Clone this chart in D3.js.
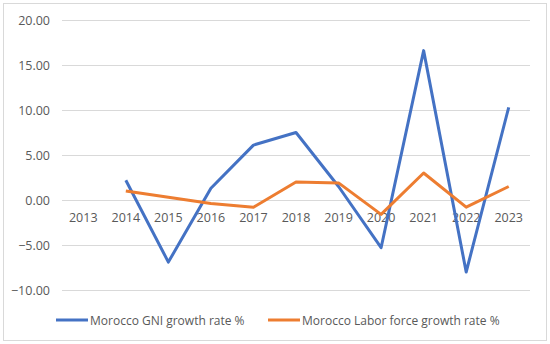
<!DOCTYPE html>
<html><head><meta charset="utf-8">
<script src="https://cdn.jsdelivr.net/npm/d3@7"></script>
<style>body{margin:0;background:#fff}svg{display:block}text{font-family:"Open Sans","Liberation Sans",sans-serif;fill:#595959}</style>
</head><body><svg id="c" width="550" height="344"></svg>
<script>
const years = ["2013","2014","2015","2016","2017","2018","2019","2020","2021","2022","2023"];
const gni = [null,2.2,-6.9,1.3,6.1,7.5,1.5,-5.3,16.6,-8.0,10.3];
const labor = [null,1.0,0.3,-0.4,-0.8,2.0,1.9,-1.6,3.0,-0.8,1.5];
const yTicks = [-10,-5,0,5,10,15,20];
const seriesNames = ["Morocco GNI growth rate %","Morocco Labor force growth rate %"];
const colors = ["#4472C4","#ED7D31"];

const svg = d3.select("#c");
svg.append("rect").attr("x",3.5).attr("y",3.5).attr("width",543).attr("height",337)
  .attr("fill","#fff").attr("stroke","#d9d9d9");
const x = d3.scaleBand().domain(years).range([62,530]);
const y = d3.scaleLinear().domain([-10,20]).range([290,20]);

const ya = svg.append("g").attr("transform","translate(62,0)")
  .call(d3.axisLeft(y).tickValues(yTicks).tickFormat(d=>d3.format(".2f")(d).replace("-","\u2212")).tickSize(-(530-62)).tickPadding(12));
ya.select(".domain").remove();
ya.selectAll("line").attr("stroke","#d9d9d9");
ya.selectAll("text").attr("font-size",12.5).style("fill","#595959");

const xa = svg.append("g").attr("transform",`translate(0,${y(0)})`)
  .call(d3.axisBottom(x).tickSize(0).tickPadding(13));
xa.select(".domain").remove();
xa.selectAll("text").attr("font-size",12.5).style("fill","#595959");

[gni,labor].forEach((s,i)=>{
  const line = d3.line().defined(d=>d.v!==null).x(d=>x(d.k)+x.bandwidth()/2).y(d=>y(d.v));
  svg.append("path").datum(years.map((k,j)=>({k,v:s[j]})))
    .attr("d",line).attr("fill","none").attr("stroke",colors[i]).attr("stroke-width",3).attr("stroke-linejoin","round");
});

const legX = [56,268];
seriesNames.forEach((n,i)=>{
  const g = svg.append("g").attr("transform",`translate(${legX[i]},320)`);
  g.append("line").attr("x1",0).attr("x2",32).attr("stroke",colors[i]).attr("stroke-width",3);
  g.append("text").attr("x",34).attr("y",4.5).attr("font-size",12).text(n);
});
</script></body></html>
